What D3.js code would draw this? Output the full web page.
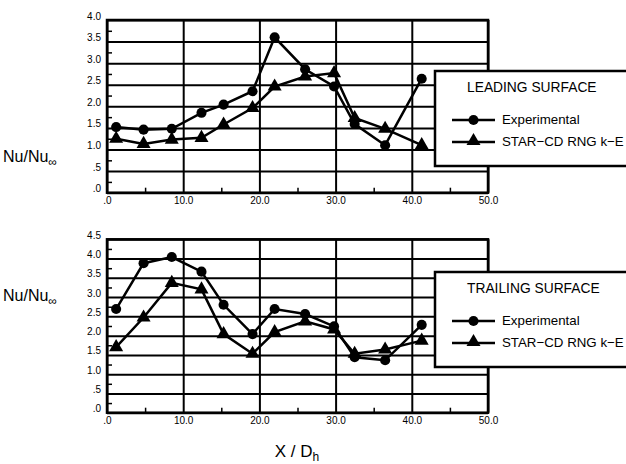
<!DOCTYPE html>
<html>
<head>
<meta charset="utf-8">
<script src="https://cdn.jsdelivr.net/npm/d3@7"></script>
<style>
  body { margin: 0; background: #fff; }
  .tick text { font-family: 'Liberation Sans Narrow', 'Liberation Sans', Arial, sans-serif; font-size: 10px; fill: #000; }
  .lbl { font-family: 'Liberation Sans', Arial, sans-serif; fill: #000; }
</style>
</head>
<body>
<svg width="626" height="464"></svg>
<script>
// x positions (X / Dh) shared by both panels
var xPos = [1.2, 4.8, 8.5, 12.4, 15.3, 19.1, 22.0, 26.0, 29.8, 32.5, 36.5, 41.3];

// leading surface
var leadExp = [1.52, 1.46, 1.48, 1.85, 2.04, 2.35, 3.60, 2.86, 2.46, 1.59, 1.10, 2.64];
var leadCfd = [1.25, 1.13, 1.23, 1.27, 1.58, 1.96, 2.46, 2.69, 2.77, 1.73, 1.48, 1.10];

// trailing surface
var trailExp = [2.69, 3.88, 4.04, 3.66, 2.80, 2.04, 2.69, 2.56, 2.24, 1.44, 1.36, 2.28];
var trailCfd = [1.70, 2.47, 3.37, 3.20, 2.04, 1.53, 2.09, 2.37, 2.16, 1.53, 1.64, 1.87];

var xTicks = [0, 10, 20, 30, 40, 50];
var xTickLabels = ['.0', '10.0', '20.0', '30.0', '40.0', '50.0'];
var seriesNames = ['Experimental', 'STAR\u2212CD RNG k\u2212E'];

var svg = d3.select('svg');

var xScale = d3.scaleLinear().domain([0, 50]).range([107, 488]);

function fmtY(d) {
    var s = d.toFixed(1);
    return s.charAt(0) === '0' ? s.slice(1) : s;
}

function drawPanel(opts) {
    var yScale = d3.scaleLinear().domain([0, opts.yMax]).range([opts.bottom, opts.top]);
    var g = svg.append('g');
    var w = xScale.range()[1] - xScale.range()[0];
    var h = opts.bottom - opts.top;

    var yTicks = d3.range(0, opts.yMax + 0.01, 0.5);

    // horizontal gridlines
    g.append('g')
        .attr('transform', 'translate(' + xScale(0) + ',0)')
        .call(d3.axisLeft(yScale).tickValues(yTicks).tickSize(-w).tickFormat(''))
        .call(function(a) {
            a.select('.domain').remove();
            a.selectAll('line').attr('stroke', '#000').attr('stroke-width', 2);
        });

    // vertical gridlines
    g.append('g')
        .attr('transform', 'translate(0,' + opts.bottom + ')')
        .call(d3.axisBottom(xScale).tickValues(xTicks).tickSize(-h).tickFormat(''))
        .call(function(a) {
            a.select('.domain').remove();
            a.selectAll('line').attr('stroke', '#000').attr('stroke-width', 2);
        });

    // minor ticks
    g.append('g')
        .attr('transform', 'translate(' + xScale(0) + ',0)')
        .call(d3.axisLeft(yScale).tickValues(d3.range(0.25, opts.yMax, 0.5)).tickSize(-5).tickFormat(''))
        .call(function(a) {
            a.select('.domain').remove();
            a.selectAll('line').attr('stroke', '#000').attr('stroke-width', 1.5);
        });
    g.append('g')
        .attr('transform', 'translate(0,' + opts.bottom + ')')
        .call(d3.axisBottom(xScale).tickValues([5, 15, 25, 35, 45]).tickSize(-5).tickFormat(''))
        .call(function(a) {
            a.select('.domain').remove();
            a.selectAll('line').attr('stroke', '#000').attr('stroke-width', 1.5);
        });

    // tick labels
    g.append('g')
        .attr('transform', 'translate(' + (xScale(0) - 3) + ',0)')
        .call(d3.axisLeft(yScale).tickValues(yTicks).tickSize(0).tickFormat(fmtY))
        .call(function(a) {
            a.select('.domain').remove();
            a.selectAll('text').attr('dy', '-0.1em');
        });
    g.append('g')
        .attr('transform', 'translate(0,' + (opts.bottom + 1) + ')')
        .call(d3.axisBottom(xScale).tickValues(xTicks).tickSize(0)
            .tickFormat(function(d, i) { return xTickLabels[i]; }))
        .call(function(a) { a.select('.domain').remove(); });

    // frame
    g.append('rect')
        .attr('x', xScale(0)).attr('y', opts.top)
        .attr('width', w).attr('height', h)
        .attr('fill', 'none').attr('stroke', '#000').attr('stroke-width', 2.5);

    var line = d3.line()
        .x(function(d, i) { return xScale(xPos[i]); })
        .y(function(d) { return yScale(d); });

    var sets = [
        {vals: opts.exp, sym: d3.symbolCircle, size: 80},
        {vals: opts.cfd, sym: d3.symbolTriangle, size: 85}
    ];
    sets.forEach(function(s) {
        g.append('path')
            .attr('d', line(s.vals))
            .attr('fill', 'none').attr('stroke', '#000').attr('stroke-width', 2.5);
        g.selectAll(null).data(s.vals).enter().append('path')
            .attr('transform', function(d, i) {
                return 'translate(' + xScale(xPos[i]) + ',' + yScale(d) + ')';
            })
            .attr('d', d3.symbol().type(s.sym).size(s.size))
            .attr('fill', '#000');
    });

    // legend
    var lg = svg.append('g').attr('transform', 'translate(435,' + opts.legTop + ')');
    lg.append('rect')
        .attr('width', 220).attr('height', 95)
        .attr('fill', '#fff').attr('stroke', '#000').attr('stroke-width', 2.5);
    lg.append('text').attr('class', 'lbl')
        .attr('x', 32).attr('y', 21).attr('font-size', 13.8)
        .text(opts.title);
    sets.forEach(function(s, i) {
        var yy = 49 + i * 22;
        lg.append('line')
            .attr('x1', 17).attr('x2', 60).attr('y1', yy).attr('y2', yy)
            .attr('stroke', '#000').attr('stroke-width', 2.5);
        lg.append('path')
            .attr('transform', 'translate(38.5,' + (yy - (i ? 1 : 0)) + ')')
            .attr('d', d3.symbol().type(s.sym).size(s.size))
            .attr('fill', '#000');
        lg.append('text').attr('class', 'lbl')
            .attr('x', 67).attr('y', yy + 4).attr('font-size', 13.3)
            .text(seriesNames[i]);
    });

    // y label
    var yl = svg.append('text').attr('class', 'lbl')
        .attr('x', 3).attr('y', opts.labelY).attr('font-size', 16);
    yl.append('tspan').text('Nu/Nu');
    yl.append('tspan').attr('dy', 4).attr('font-size', 12).text('\u221E');
}

drawPanel({top: 20, bottom: 192.7, yMax: 4, exp: leadExp, cfd: leadCfd,
    legTop: 71, title: 'LEADING SURFACE', labelY: 162});
drawPanel({top: 239.3, bottom: 412.7, yMax: 4.5, exp: trailExp, cfd: trailCfd,
    legTop: 272, title: 'TRAILING SURFACE', labelY: 301});

// x label
var xl = svg.append('text').attr('class', 'lbl')
    .attr('x', 297).attr('y', 457).attr('font-size', 17)
    .attr('text-anchor', 'middle');
xl.append('tspan').text('X / D');
xl.append('tspan').attr('dy', 4).attr('font-size', 12).text('h');
</script>
</body>
</html>
